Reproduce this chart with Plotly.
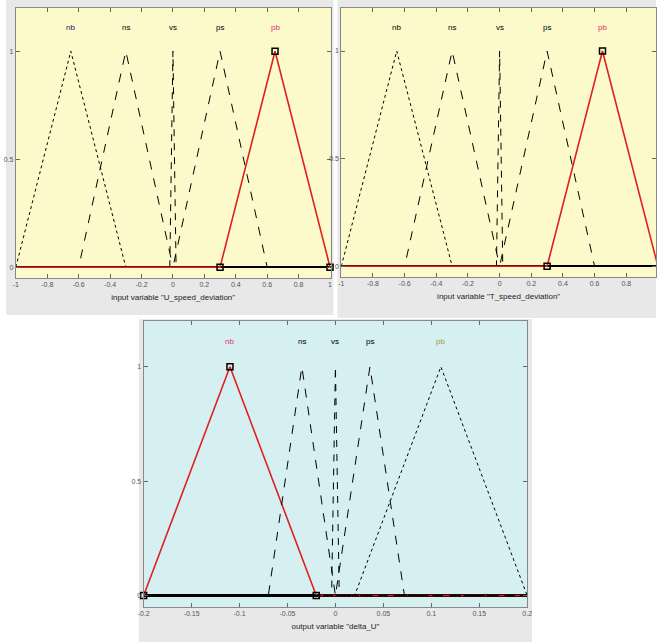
import plotly.graph_objects as go

# membership functions (triangles: a, peak, c)
mf_names = ["nb", "ns", "vs", "ps", "pb"]
in1_range = [-1, 1]
in1_params = [[-1, -0.65, -0.3], [-0.6, -0.3, 0], [-0.02, 0, 0.02], [0, 0.3, 0.6], [0.3, 0.65, 1]]
in2_range = [-1, 1]
in2_params = [[-1, -0.65, -0.3], [-0.6, -0.3, 0], [-0.02, 0, 0.02], [0, 0.3, 0.6], [0.3, 0.65, 1]]
out_range = [-0.2, 0.2]
out_params = [[-0.2, -0.11, -0.02], [-0.07, -0.035, 0], [-0.004, 0, 0.004], [0, 0.036, 0.072], [0.02, 0.11, 0.2]]

in_ticks = [-1, -0.8, -0.6, -0.4, -0.2, 0, 0.2, 0.4, 0.6, 0.8, 1]
in_ticklabels = ["-1", "-0.8", "-0.6", "-0.4", "-0.2", "0", "0.2", "0.4", "0.6", "0.8", "1"]
out_ticks = [-0.2, -0.15, -0.1, -0.05, 0, 0.05, 0.1, 0.15, 0.2]
out_ticklabels = ["-0.2", "-0.15", "-0.1", "-0.05", "0", "0.05", "0.1", "0.15", "0.2"]
y_ticks = [0, 0.5, 1]

panels = [
    dict(params=in1_params, rng=in1_range, sel=4, ax="", view=[-1, 1.003],
         ticks=in_ticks, labels=in_ticklabels, bg="#fcfacb",
         title='input variable "U_speed_deviation"',
         styles=["dot", "dash", "7px,7px", "dash", "solid"],
         dom_x=[10 / 661, 330 / 661], dom_y=[1 - 278 / 642, 1 - 8 / 642], zw=1.5,
         label_colors=["#1a1a60", "black", "black", "black", "#e0306a"]),
    dict(params=in2_params, rng=in2_range, sel=4, ax="2", view=[-1, 0.988],
         ticks=in_ticks, labels=in_ticklabels, bg="#fcfacb",
         title='input variable "T_speed_deviation"',
         styles=["dot", "dash", "7px,7px", "dash", "solid"],
         dom_x=[341 / 661, 1.0], dom_y=[1 - 277 / 642, 1 - 8 / 642], zw=1.5,
         label_colors=["black", "black", "black", "black", "#e0306a"]),
    dict(params=out_params, rng=out_range, sel=0, ax="3", view=[-0.2, 0.2],
         ticks=out_ticks, labels=out_ticklabels, bg="#d6eff1",
         title='output variable "delta_U"',
         styles=["solid", "dash", "7px,7px", "dash", "dot"],
         dom_x=[140 / 661, 530 / 661], dom_y=[1 - 607 / 642, 1 - 321 / 642], zw=3,
         label_colors=["#e0306a", "black", "black", "black", "#a0a040"]),
]

fig = go.Figure()

# gray frames behind each panel
for x0, y0, x1, y1 in [(0, 0, 333, 315), (337, 0, 661, 318), (135, 319, 535, 642)]:
    fig.add_shape(type="rect", xref="paper", yref="paper",
                  x0=x0 / 661, x1=x1 / 661, y0=1 - y1 / 642, y1=1 - y0 / 642,
                  fillcolor="#e8e8e8", line=dict(width=0), layer="below")

for p in panels:
    xa = "x" + p["ax"]
    ya = "y" + p["ax"]
    lo, hi = p["rng"]
    for i, (a, b, c) in enumerate(p["params"]):
        selected = i == p["sel"]
        fig.add_trace(go.Scatter(
            x=[lo, a, b, c, hi], y=[0, 0, 1, 0, 0], mode="lines",
            line=dict(color="#e02020" if selected else "black",
                      width=1.6 if selected else 1, dash=p["styles"][i]),
            xaxis=xa, yaxis=ya, showlegend=False, hoverinfo="skip"))
        fig.add_annotation(x=b, y=1.11, xref=xa, yref=ya, text=mf_names[i],
                           showarrow=False,
                           font=dict(size=8, color=p["label_colors"][i]))
    a, b, c = p["params"][p["sel"]]
    fig.add_trace(go.Scatter(
        x=[a, b, c], y=[0, 1, 0], mode="markers",
        marker=dict(symbol="square-open", size=6, color="black", line=dict(width=1.5)),
        xaxis=xa, yaxis=ya, showlegend=False, cliponaxis=False, hoverinfo="skip"))
    fig.add_shape(type="rect", xref=xa + " domain", yref=ya + " domain",
                  x0=0, x1=1, y0=0, y1=1, fillcolor=p["bg"],
                  line=dict(width=0), layer="below")
    axis_common = dict(showgrid=False, ticks="inside", ticklen=4, tickcolor="#666",
                       showline=True, linecolor="#888", linewidth=1, mirror="ticks",
                       tickfont=dict(family="Liberation Sans", size=7, color="#555"))
    fig.update_layout({
        ("xaxis" + p["ax"]): dict(domain=p["dom_x"], range=p["view"], anchor=ya,
                                  tickvals=p["ticks"], ticktext=p["labels"],
                                  zeroline=False,
                                  title=dict(text=p["title"], standoff=6,
                                             font=dict(family="Liberation Sans", size=8, color="#222")),
                                  **axis_common),
        ("yaxis" + p["ax"]): dict(domain=p["dom_y"], range=[-0.05, 1.2], anchor=xa,
                                  tickvals=y_ticks, ticktext=["0", "0.5", "1"],
                                  zeroline=True, zerolinecolor="black",
                                  zerolinewidth=p["zw"], **axis_common),
    })

fig.update_layout(width=661, height=642, margin=dict(l=0, r=0, t=0, b=0),
                  paper_bgcolor="white", plot_bgcolor="rgba(0,0,0,0)",
                  font=dict(family="Liberation Sans"))

# the page's default body margin would shift the figure
fig.write_html("out.html", config={"displayModeBar": False},
               post_script="document.body.style.margin='0';document.body.style.overflow='hidden';")
